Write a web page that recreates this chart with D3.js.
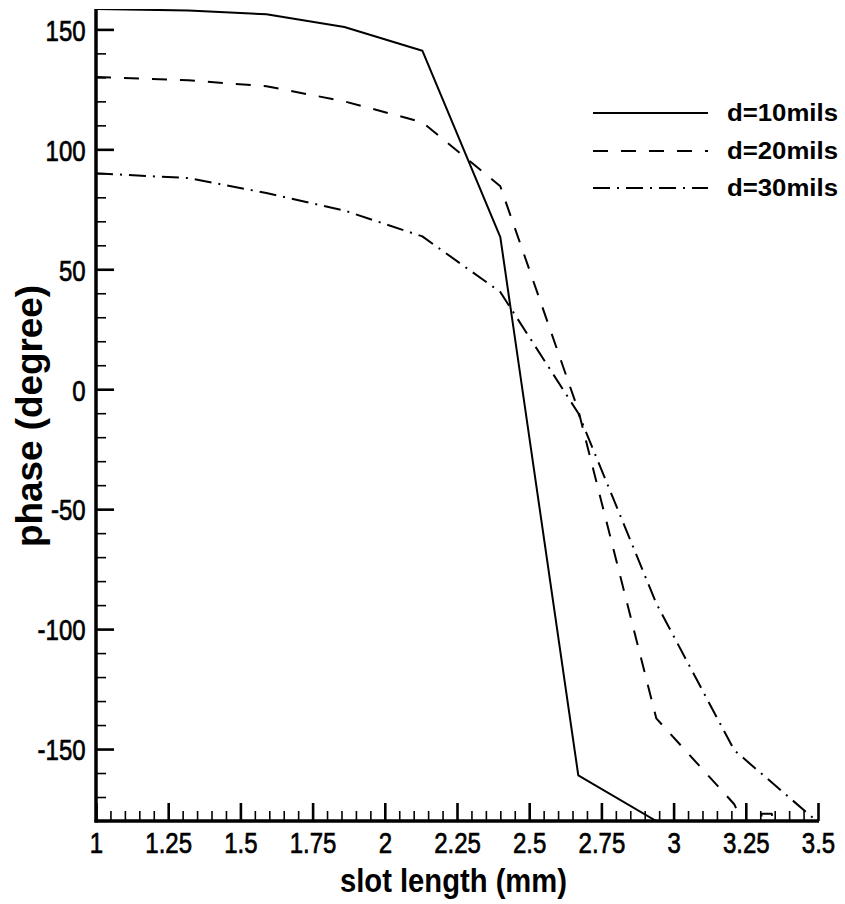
<!DOCTYPE html>
<html>
<head>
<meta charset="utf-8">
<script src="https://cdn.jsdelivr.net/npm/d3@7"></script>
<style>
  html, body { margin: 0; padding: 0; background: #fff; }
  svg { display: block; }
  text { font-family: "Liberation Sans", Arial, Helvetica, sans-serif; fill: #000; }
</style>
</head>
<body>
<svg id="chart" width="845" height="904"></svg>
<script>
// Phase versus slot length for three substrate thicknesses
const seriesNames = ["d=10mils", "d=20mils", "d=30mils"];

const slotLength10 = [1.0, 1.32, 1.59, 1.86, 2.13, 2.40, 2.67, 2.94];
const phase10      = [158.5, 157.9, 156.3, 151.0, 141.1, 63.4, -161.0, -180.0];

const slotLength20 = [1.0, 1.32, 1.59, 1.86, 2.13, 2.40, 2.67, 2.94, 3.21, 3.24, 3.30, 3.305, 3.34, 3.345, 3.5];
const phase20      = [130.2, 128.8, 126.3, 120.0, 111.3, 84.6, -8.8, -137.2, -173.0, -181.0, -181.0, -177.0, -177.0, -181.0, -181.0];

const slotLength30 = [1.0, 1.32, 1.59, 1.86, 2.13, 2.40, 2.67, 2.94, 3.21, 3.5];
const phase30      = [90.0, 88.0, 81.8, 74.5, 63.7, 40.5, -10.0, -89.3, -150.5, -180.5];

const xTickValues = [1, 1.25, 1.5, 1.75, 2, 2.25, 2.5, 2.75, 3, 3.25, 3.5];
const xTickLabels = ["1", "1.25", "1.5", "1.75", "2", "2.25", "2.5", "2.75", "3", "3.25", "3.5"];
const yTickValues = [-150, -100, -50, 0, 50, 100, 150];
const yTickLabels = ["-150", "-100", "-50", "0", "50", "100", "150"];

const xTitle = "slot length (mm)";
const yTitle = "phase (degree)";

const svg = d3.select("#chart");

const plotLeft = 96, plotRight = 818, plotTop = 9, plotBottom = 821;

const x = d3.scaleLinear().domain([1, 3.5]).range([plotLeft, plotRight]);
const y = d3.scaleLinear().domain([-180, d3.max(phase10)]).range([plotBottom, plotTop]);

const series = [
  { name: seriesNames[0], xs: slotLength10, ys: phase10, dash: null },
  { name: seriesNames[1], xs: slotLength20, ys: phase20, dash: "15,13" },
  { name: seriesNames[2], xs: slotLength30, ys: phase30, dash: "17,7,2,7" }
];

svg.append("defs").append("clipPath").attr("id", "plot-clip")
  .append("rect")
  .attr("x", plotLeft).attr("y", plotTop)
  .attr("width", plotRight - plotLeft).attr("height", plotBottom - plotTop);

const line = d3.line().x(d => x(d[0])).y(d => y(d[1]));

const lines = svg.append("g").attr("clip-path", "url(#plot-clip)");
series.forEach(s => {
  lines.append("path")
    .datum(d3.zip(s.xs, s.ys))
    .attr("d", line)
    .attr("fill", "none")
    .attr("stroke", "#000")
    .attr("stroke-width", 2)
    .attr("stroke-dasharray", s.dash)
    .attr("stroke-linejoin", "round");
});

// Minor ticks (inward)
const xMinor = d3.range(1, 3.5001, 0.05).map(v => +v.toFixed(2)).filter(v => !xTickValues.includes(v));
const yMinor = d3.range(-170, 158, 10).filter(v => !yTickValues.includes(v));

const xMinorAxis = d3.axisBottom(x).tickValues(xMinor).tickSize(-10).tickFormat("");
const yMinorAxis = d3.axisLeft(y).tickValues(yMinor).tickSize(-10).tickFormat("");

svg.append("g").attr("transform", `translate(0,${plotBottom})`).call(xMinorAxis)
  .call(g => g.select(".domain").remove())
  .call(g => g.selectAll("line").attr("stroke-width", 1.6));
svg.append("g").attr("transform", `translate(${plotLeft},0)`).call(yMinorAxis)
  .call(g => g.select(".domain").remove())
  .call(g => g.selectAll("line").attr("stroke-width", 1.6));

// Major ticks with labels
const xAxis = d3.axisBottom(x).tickValues(xTickValues).tickSize(-18).tickSizeOuter(0)
  .tickPadding(0).tickFormat((d, i) => xTickLabels[i]);
const yAxis = d3.axisLeft(y).tickValues(yTickValues).tickSize(-18).tickSizeOuter(0)
  .tickPadding(0).tickFormat((d, i) => yTickLabels[i]);

const gx = svg.append("g").attr("transform", `translate(0,${plotBottom})`).call(xAxis);
gx.select(".domain").remove();
gx.selectAll("line").attr("stroke-width", 2.6);
gx.selectAll("text")
  .attr("font-size", 30)
  .attr("font-family", null)
  .attr("y", 32)
  .attr("dy", null)
  .attr("stroke", "#000").attr("stroke-width", 0.7)
  .attr("transform", "scale(0.8,1)");

const gy = svg.append("g").attr("transform", `translate(${plotLeft},0)`).call(yAxis);
gy.select(".domain").remove();
gy.selectAll("line").attr("stroke-width", 2.6);
gy.selectAll("text")
  .attr("font-size", 30)
  .attr("font-family", null)
  .attr("x", -13)
  .attr("dy", "0.36em")
  .attr("stroke", "#000").attr("stroke-width", 0.7)
  .attr("transform", "scale(0.8,1)");

// Axis lines
svg.append("line")
  .attr("x1", plotLeft).attr("x2", plotLeft)
  .attr("y1", plotTop).attr("y2", plotBottom + 1.5)
  .attr("stroke", "#000").attr("stroke-width", 3.5);
svg.append("line")
  .attr("x1", plotLeft - 1.5).attr("x2", plotRight + 1)
  .attr("y1", plotBottom).attr("y2", plotBottom)
  .attr("stroke", "#000").attr("stroke-width", 3.5);

// Axis titles
svg.append("text")
  .attr("x", 453.5).attr("y", 892)
  .attr("text-anchor", "middle")
  .attr("font-size", 34).attr("font-weight", "bold")
  .attr("textLength", 227).attr("lengthAdjust", "spacingAndGlyphs")
  .text(xTitle);

svg.append("text")
  .attr("transform", "translate(42,416) rotate(-90)")
  .attr("text-anchor", "middle")
  .attr("font-size", 36).attr("font-weight", "bold")
  .attr("textLength", 262).attr("lengthAdjust", "spacingAndGlyphs")
  .text(yTitle);

// Legend
const legendRows = [113, 151, 188];
const legend = svg.append("g");
series.forEach((s, i) => {
  legend.append("line")
    .attr("x1", 593).attr("x2", 708)
    .attr("y1", legendRows[i]).attr("y2", legendRows[i])
    .attr("stroke", "#000").attr("stroke-width", 2)
    .attr("stroke-dasharray", s.dash);
  legend.append("text")
    .attr("x", 727).attr("y", legendRows[i] + 8)
    .attr("font-size", 23).attr("font-weight", "bold")
    .attr("textLength", 111).attr("lengthAdjust", "spacingAndGlyphs")
    .text(s.name);
});
</script>
</body>
</html>
